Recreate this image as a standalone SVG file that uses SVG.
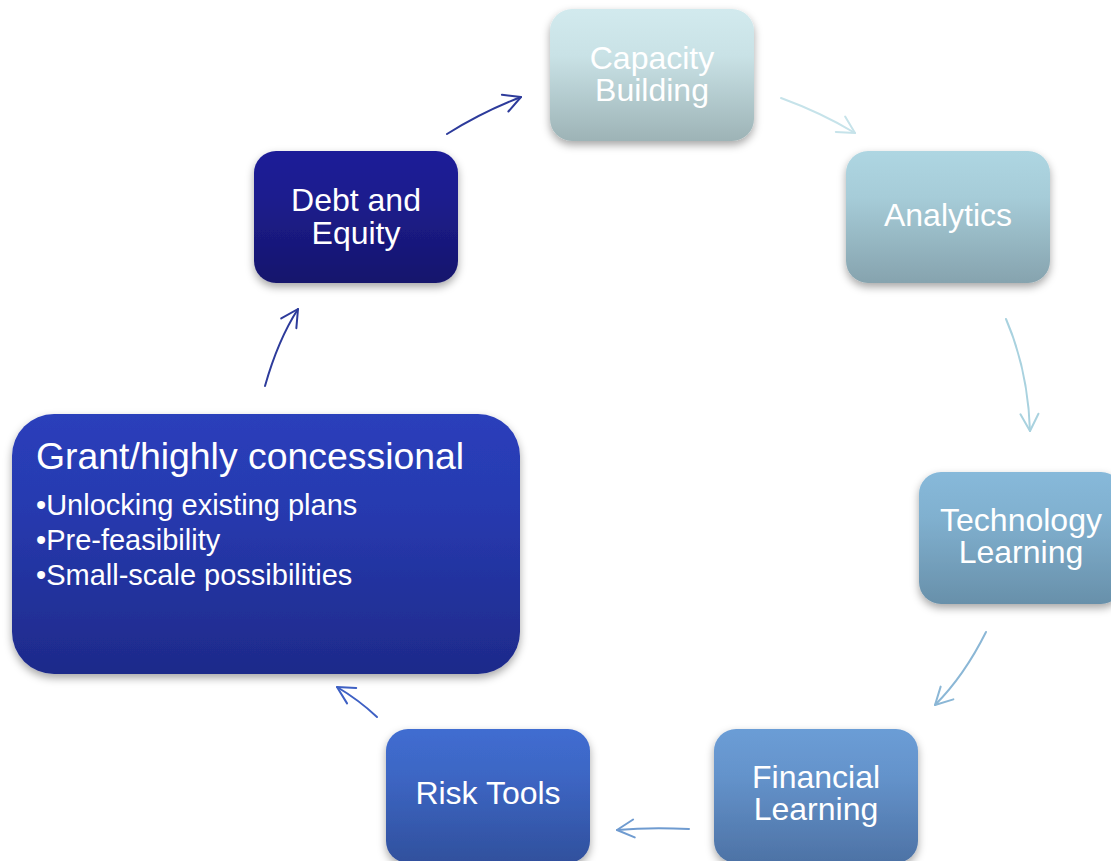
<svg xmlns="http://www.w3.org/2000/svg" width="1111" height="861" viewBox="0 0 1111 861">
<style>
.lbl{font-family:"Liberation Sans",Arial,sans-serif;font-size:32px;fill:#fff;text-anchor:middle}
.ttl{font-family:"Liberation Sans",Arial,sans-serif;font-size:37.4px;fill:#fff}
.bul{font-family:"Liberation Sans",Arial,sans-serif;font-size:29px;fill:#fff}
.con{fill:none;stroke-width:2;stroke-linecap:round}
</style>
<defs>
<filter id="sh" x="-10%" y="-10%" width="125%" height="130%">
<feDropShadow dx="0" dy="4" stdDeviation="4" flood-color="#000" flood-opacity="0.35"/>
</filter>
<linearGradient id="gCap" x1="0" y1="0" x2="0" y2="1"><stop offset="0" stop-color="#d2eaee"/><stop offset="0.35" stop-color="#c9e2e6"/><stop offset="1" stop-color="#9db3b6"/></linearGradient>
<linearGradient id="gAna" x1="0" y1="0" x2="0" y2="1"><stop offset="0" stop-color="#aed6e2"/><stop offset="0.35" stop-color="#a6ccd8"/><stop offset="1" stop-color="#86a3ae"/></linearGradient>
<linearGradient id="gTec" x1="0" y1="0" x2="0" y2="1"><stop offset="0" stop-color="#87b9da"/><stop offset="0.35" stop-color="#80b0cf"/><stop offset="1" stop-color="#6890aa"/></linearGradient>
<linearGradient id="gFin" x1="0" y1="0" x2="0" y2="1"><stop offset="0" stop-color="#6b9dd6"/><stop offset="0.35" stop-color="#6493cb"/><stop offset="1" stop-color="#4d72a5"/></linearGradient>
<linearGradient id="gRis" x1="0" y1="0" x2="0" y2="1"><stop offset="0" stop-color="#406dd1"/><stop offset="0.35" stop-color="#3d66c4"/><stop offset="1" stop-color="#30509d"/></linearGradient>
<linearGradient id="gGra" x1="0" y1="0" x2="0" y2="1"><stop offset="0" stop-color="#2a3fbb"/><stop offset="0.35" stop-color="#273ab0"/><stop offset="1" stop-color="#1e2a8a"/></linearGradient>
<linearGradient id="gDeb" x1="0" y1="0" x2="0" y2="1"><stop offset="0" stop-color="#1f1f98"/><stop offset="0.35" stop-color="#1d1d8e"/><stop offset="1" stop-color="#15156c"/></linearGradient>
<marker id="m1" viewBox="-20 -11 22 22" markerWidth="22" markerHeight="22" refX="0" refY="0" orient="auto" markerUnits="userSpaceOnUse"><path d="M-17,-9 L0,0 L-17,9" fill="none" stroke="#2d3b9b" stroke-width="2" stroke-linecap="round" stroke-linejoin="round"/></marker>
<marker id="m2" viewBox="-20 -11 22 22" markerWidth="22" markerHeight="22" refX="0" refY="0" orient="auto" markerUnits="userSpaceOnUse"><path d="M-17,-9 L0,0 L-17,9" fill="none" stroke="#c6e3ea" stroke-width="2" stroke-linecap="round" stroke-linejoin="round"/></marker>
<marker id="m3" viewBox="-20 -11 22 22" markerWidth="22" markerHeight="22" refX="0" refY="0" orient="auto" markerUnits="userSpaceOnUse"><path d="M-17,-9 L0,0 L-17,9" fill="none" stroke="#a9d2df" stroke-width="2" stroke-linecap="round" stroke-linejoin="round"/></marker>
<marker id="m4" viewBox="-20 -11 22 22" markerWidth="22" markerHeight="22" refX="0" refY="0" orient="auto" markerUnits="userSpaceOnUse"><path d="M-17,-9 L0,0 L-17,9" fill="none" stroke="#8bb7d6" stroke-width="2" stroke-linecap="round" stroke-linejoin="round"/></marker>
<marker id="m5" viewBox="-20 -11 22 22" markerWidth="22" markerHeight="22" refX="0" refY="0" orient="auto" markerUnits="userSpaceOnUse"><path d="M-17,-9 L0,0 L-17,9" fill="none" stroke="#6f9bd0" stroke-width="2" stroke-linecap="round" stroke-linejoin="round"/></marker>
<marker id="m6" viewBox="-20 -11 22 22" markerWidth="22" markerHeight="22" refX="0" refY="0" orient="auto" markerUnits="userSpaceOnUse"><path d="M-17,-9 L0,0 L-17,9" fill="none" stroke="#3e60c4" stroke-width="2" stroke-linecap="round" stroke-linejoin="round"/></marker>
</defs>
<rect width="1111" height="861" fill="#ffffff"/>
<g id="connectors">
<path class="con" stroke="#2d3b9b" d="M447,134 Q482,112 521,97" marker-end="url(#m1)"/>
<path class="con" stroke="#c6e3ea" d="M781,98 Q822,113 855,133" marker-end="url(#m2)"/>
<path class="con" stroke="#a9d2df" d="M1006,319 Q1028,370 1030,431" marker-end="url(#m3)"/>
<path class="con" stroke="#8bb7d6" d="M986,632 Q964,676 935,705" marker-end="url(#m4)"/>
<path class="con" stroke="#6f9bd0" d="M689,829 Q650,827 617,830" marker-end="url(#m5)"/>
<path class="con" stroke="#3e60c4" d="M377,717 Q359,700 337,687" marker-end="url(#m6)"/>
<path class="con" stroke="#2d3b9b" d="M265,386 Q278,340 298,309" marker-end="url(#m1)"/>
</g>
<g id="capacity-building">
<rect x="550" y="9" width="204" height="132" rx="22" fill="url(#gCap)" filter="url(#sh)"/>
<text class="lbl" x="652" y="69">Capacity</text>
<text class="lbl" x="652" y="101">Building</text>
</g>
<g id="analytics">
<rect x="846" y="151" width="204" height="132" rx="22" fill="url(#gAna)" filter="url(#sh)"/>
<text class="lbl" x="948" y="226">Analytics</text>
</g>
<g id="technology-learning">
<rect x="919" y="472" width="204" height="132" rx="22" fill="url(#gTec)" filter="url(#sh)"/>
<text class="lbl" x="1021" y="531">Technology</text>
<text class="lbl" x="1021" y="563">Learning</text>
</g>
<g id="financial-learning">
<rect x="714" y="729" width="204" height="134" rx="22" fill="url(#gFin)" filter="url(#sh)"/>
<text class="lbl" x="816" y="788">Financial</text>
<text class="lbl" x="816" y="820">Learning</text>
</g>
<g id="risk-tools">
<rect x="386" y="729" width="204" height="134" rx="22" fill="url(#gRis)" filter="url(#sh)"/>
<text class="lbl" x="488" y="804">Risk Tools</text>
</g>
<g id="grant">
<rect x="12" y="414" width="508" height="260" rx="42" fill="url(#gGra)" filter="url(#sh)"/>
<text class="ttl" x="36" y="469">Grant/highly concessional</text>
<text class="bul" x="36" y="515">•Unlocking existing plans</text>
<text class="bul" x="36" y="550">•Pre-feasibility</text>
<text class="bul" x="36" y="585">•Small-scale possibilities</text>
</g>
<g id="debt-and-equity">
<rect x="254" y="151" width="204" height="132" rx="22" fill="url(#gDeb)" filter="url(#sh)"/>
<text class="lbl" x="356" y="211">Debt and</text>
<text class="lbl" x="356" y="244">Equity</text>
</g>
</svg>
